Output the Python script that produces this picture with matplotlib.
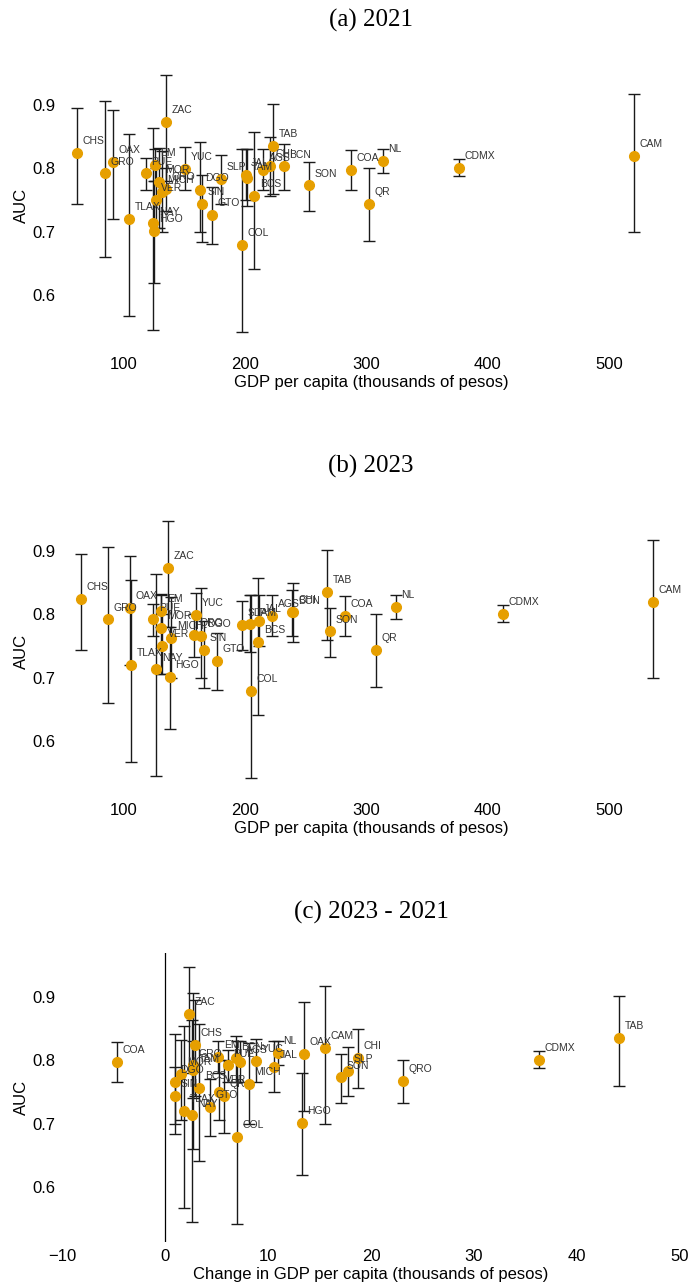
import matplotlib.pyplot as plt

# state abbreviations and AUC with 95% interval (same model results in every panel)
states = ['CHS', 'GRO', 'OAX', 'TLAX', 'PUE', 'EM', 'ZAC', 'MOR', 'YUC', 'MICH',
          'QRO', 'VER', 'NAY', 'HGO', 'DGO', 'SIN', 'GTO', 'SLP', 'COL', 'JAL',
          'TAM', 'BCS', 'AGS', 'CHI', 'TAB', 'BCN', 'SON', 'COA', 'QR', 'NL',
          'CDMX', 'CAM']
auc = [0.825, 0.792, 0.810, 0.720, 0.792, 0.805, 0.873, 0.779, 0.799, 0.763,
       0.767, 0.750, 0.713, 0.701, 0.766, 0.744, 0.727, 0.783, 0.679, 0.790,
       0.784, 0.756, 0.798, 0.804, 0.836, 0.803, 0.773, 0.798, 0.744, 0.812,
       0.801, 0.820]
auc_lo = [0.744, 0.660, 0.720, 0.567, 0.766, 0.780, 0.780, 0.705, 0.766, 0.700,
          0.732, 0.705, 0.545, 0.619, 0.700, 0.684, 0.680, 0.743, 0.542, 0.750,
          0.740, 0.641, 0.766, 0.757, 0.760, 0.766, 0.733, 0.766, 0.686, 0.793,
          0.788, 0.699]
auc_hi = [0.896, 0.907, 0.892, 0.855, 0.817, 0.830, 0.947, 0.832, 0.833, 0.828,
          0.800, 0.800, 0.863, 0.780, 0.842, 0.790, 0.771, 0.821, 0.830, 0.830,
          0.830, 0.858, 0.830, 0.850, 0.902, 0.838, 0.810, 0.829, 0.800, 0.830,
          0.814, 0.918]

# GDP per capita, thousands of pesos
gdp_2021 = [61.0, 84.3, 91.2, 104.1, 117.9, 125.6, 134.4, 129.1, 150.3, 131.1,
            134.6, 126.1, 124.2, 124.7, 162.7, 164.6, 172.6, 180.0, 197.6, 200.4,
            201.2, 207.5, 214.9, 220.4, 223.2, 232.0, 252.8, 287.0, 302.0, 313.3,
            376.3, 520.8]
gdp_2023 = [64.3, 87.1, 104.8, 105.9, 124.1, 130.7, 136.6, 130.8, 159.2, 139.1,
            157.7, 131.3, 126.8, 138.0, 163.7, 165.6, 177.0, 197.6, 204.6, 211.1,
            203.9, 210.9, 222.3, 239.2, 267.6, 238.9, 269.9, 282.3, 307.7, 324.3,
            412.6, 536.3]
gdp_change = [2.91, 2.7, 13.46, 1.87, 6.08, 5.17, 2.36, 1.6, 8.83, 8.12,
              23.1, 5.27, 2.62, 13.3, 0.97, 1.0, 4.4, 17.8, 6.95, 10.6,
              2.7, 3.33, 7.28, 18.7, 44.1, 6.89, 17.1, -4.7, 5.76, 10.93,
              36.3, 15.5]

yerr = [[a - lo for a, lo in zip(auc, auc_lo)], [hi - a for a, hi in zip(auc, auc_hi)]]

plt.rcParams['font.family'] = ['Liberation Sans', 'DejaVu Sans']

W, H = 690, 1285
fig = plt.figure(figsize=(W / 100, H / 100), dpi=100)

panels = [
    ('(a) 2021', gdp_2021, 'GDP per capita (thousands of pesos)', 105, (48.87, 558.6), [100, 200, 300, 400, 500]),
    ('(b) 2023', gdp_2023, 'GDP per capita (thousands of pesos)', 551, (48.87, 558.6), [100, 200, 300, 400, 500]),
    ('(c) 2023 - 2021', gdp_change, 'Change in GDP per capita (thousands of pesos)', 997, (-10, 50), [-10, 0, 10, 20, 30, 40, 50]),
]

for title, xs, xlabel, p09, xlim, xticks in panels:
    top = p09 - 44
    bot = p09 + 245
    ax = fig.add_axes([62 / W, 1 - bot / H, 618 / W, (bot - top) / H])
    ax.set_xlim(*xlim)
    ax.set_ylim(0.6 - 55 / 633, 0.9 + 44 / 633)
    ax.set_xticks(xticks)
    ax.set_yticks([0.6, 0.7, 0.8, 0.9])
    for s in ax.spines.values():
        s.set_visible(False)
    ax.tick_params(length=0, labelsize=12, pad=5)
    if xlim[0] < 0:
        ax.axvline(0, color='black', lw=0.9, zorder=1)

    ax.errorbar(xs, auc, yerr=yerr, fmt='none', ecolor='#1a1a1a', elinewidth=1.0,
                capsize=4.4, capthick=1.0, zorder=2)
    ax.plot(xs, auc, 'o', color='#E69F00', markersize=7.0, zorder=3)
    for name, x, y in zip(states, xs, auc):
        ax.annotate(name, (x, y), xytext=(4, 8.5), textcoords='offset points',
                    fontsize=7.5, color='#333333', ha='left', va='center', zorder=4)

    ax.set_xlabel(xlabel, fontsize=12, labelpad=2)
    ax.set_ylabel('AUC', fontsize=12)
    ax.yaxis.set_label_coords(-0.053, 0.5)
    fig.text(371 / W, 1 - (top - 41) / H, title, family='Liberation Serif',
             fontsize=18, ha='center', va='center')

fig.savefig('out.png', dpi=100)
